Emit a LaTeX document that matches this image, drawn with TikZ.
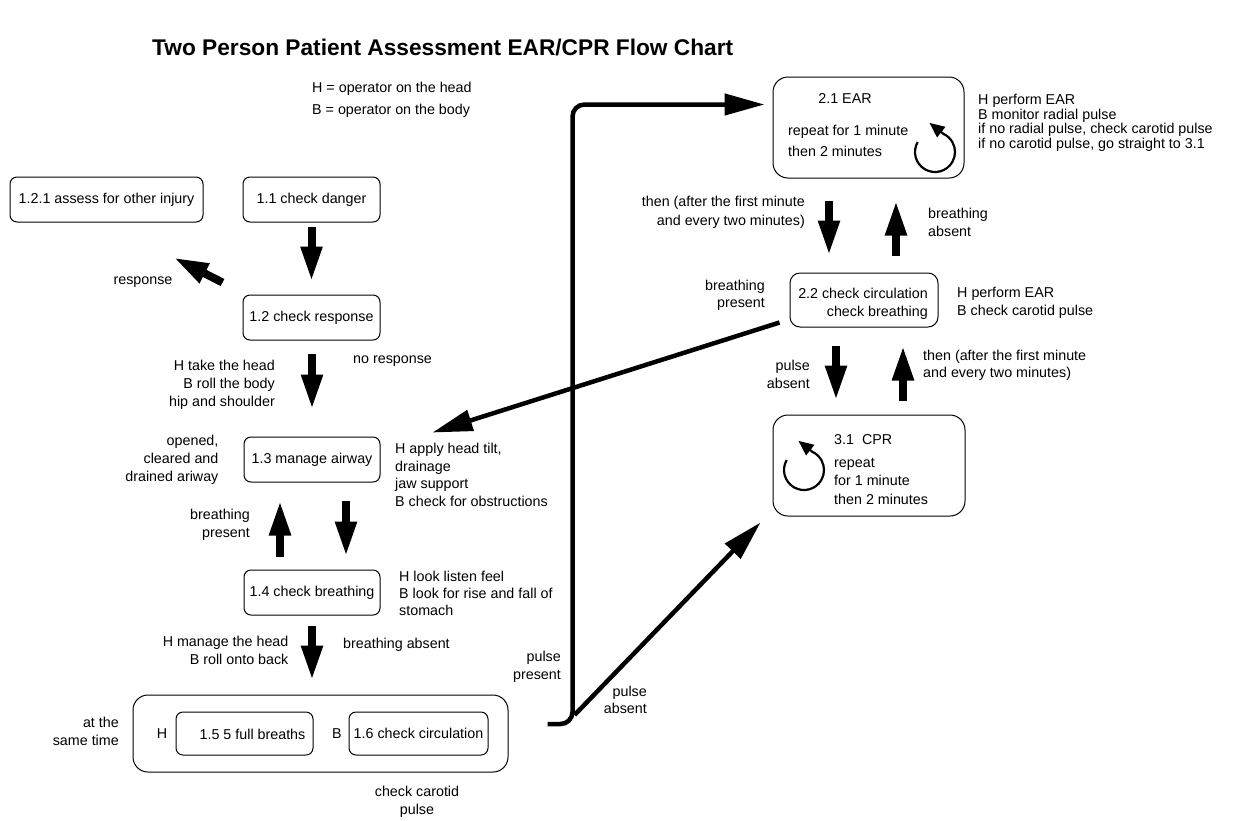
\documentclass[tikz,border=0pt]{standalone}
\usepackage{fontspec}
\setmainfont{Liberation Sans}
\usetikzlibrary{arrows.meta,calc}
\tikzset{
  box/.style={draw, line width=1pt, rounded corners=7pt, inner sep=0pt, font=\fontsize{14.3}{17}\selectfont},
  lbl/.style={inner sep=0pt, font=\fontsize{14.3}{#1}\selectfont},
  lbl/.default=18,
  blk/.style={line width=8pt, -{Triangle[length=35pt,width=20pt]}},
  lng/.style={line width=4.5pt, -{Triangle[length=40pt,width=21pt]}},
  cyc/.pic={\draw[line width=2.2pt, -{Triangle[length=15pt,width=13pt]}] (210:20) arc[start angle=210, end angle=-65, radius=20] -- ++(-14,-11);}
}
\begin{document}
\begin{tikzpicture}[x=1pt,y=-1pt]
\fill[white] (0,0) rectangle (1233,820);
\useasboundingbox (0,0) rectangle (1233,820);

% title and legend
\node[lbl, font=\fontsize{22.7}{26}\selectfont\bfseries, anchor=base west] (title) at (152,55) {Two Person Patient Assessment EAR/CPR Flow Chart};
\node[lbl=22, anchor=west, align=left] (leg) at (312,100) {H = operator on the head\\B = operator on the body};

% left column boxes
\node[box, minimum width=193pt, minimum height=45pt] (b121) at (106.5,199.5) {1.2.1 assess for other injury};
\node[box, minimum width=137pt, minimum height=45pt] (b11) at (311.5,199.5) {1.1 check danger};
\node[box, minimum width=137pt, minimum height=45pt] (b12) at (311.5,317.5) {1.2 check response};
\node[box, minimum width=136pt, minimum height=45pt] (b13) at (312,459.5) {1.3 manage airway};
\node[box, minimum width=136pt, minimum height=45pt] (b14) at (312,592.5) {1.4 check breathing};
\node[box, rounded corners=15pt, minimum width=375pt, minimum height=77pt] (outer) at (320.5,733.5) {};
\node[box, minimum width=137pt, minimum height=43pt] (b15) at (244.5,733.5) {};
\node[lbl] (t15) at (252.5,734) {1.5 5 full breaths};
\node[box, minimum width=139pt, minimum height=43pt] (b16) at (418.5,733.5) {1.6 check circulation};
\node[lbl] (tH) at (162,734) {H};
\node[lbl] (tB) at (337,734) {B};

% left labels
\node[lbl] (resp) at (143,282) {response};
\node[lbl, anchor=east, align=right] (htake) at (275,385) {H take the head\\B roll the body\\hip and shoulder};
\node[lbl, anchor=west] (nores) at (353,361) {no response};
\node[lbl, anchor=east, align=right] (opened) at (218.6,460) {opened,\\cleared and\\drained ariway};
\node[lbl=17.5, anchor=west, align=left] (happly) at (395,475) {H apply head tilt,\\drainage\\jaw support\\B check for obstructions};
\node[lbl, anchor=east, align=right] (bp1) at (250,525) {breathing\\present};
\node[lbl=17, anchor=west, align=left] (hlook) at (399,593) {H look listen feel\\B look for rise and fall of\\stomach};
\node[lbl, anchor=east, align=right] (hman) at (288.6,650) {H manage the head\\B roll onto back};
\node[lbl, anchor=west] (babs) at (343,645) {breathing absent};
\node[lbl, anchor=east, align=right] (same) at (119,731) {at the\\same time};
\node[lbl, align=center] (carot) at (417,802) {check carotid\\pulse};
\node[lbl, anchor=east, align=right] (ppres) at (561,667) {pulse\\present};
\node[lbl=17, anchor=east, align=right] (pabs) at (647,699.5) {pulse\\absent};

% right column
\node[box, rounded corners=15pt, minimum width=191pt, minimum height=101pt] (b21) at (868.5,127.5) {};
\node[lbl] (t21) at (845,99) {2.1 EAR};
\node[lbl=21, anchor=west, align=left] (t21b) at (788,140.5) {repeat for 1 minute\\then 2 minutes};
\pic at (935,152) {cyc};
\node[lbl=14.6, anchor=west, align=left] (n21) at (978,123) {H perform EAR\\B monitor radial pulse\\if no radial pulse, check carotid pulse\\if no carotid pulse, go straight to 3.1};

\node[box, rounded corners=10pt, minimum width=148pt, minimum height=54pt] (b22) at (864,300) {};
\node[lbl, anchor=east, align=right] (t22) at (928,304) {2.2 check circulation\\check breathing};
\node[lbl, anchor=west, align=left] (n22) at (957,303) {H perform EAR\\B check carotid pulse};
\node[lbl=17, anchor=east, align=right] (bp2) at (765,295.5) {breathing\\present};
\node[lbl=19, anchor=east, align=right] (th1) at (805,212.5) {then (after the first minute\\and every two minutes)};
\node[lbl, anchor=west, align=left] (ba2) at (928,222) {breathing\\absent};
\node[lbl, anchor=east, align=right] (pa2) at (810,374) {pulse\\absent};
\node[lbl=17, anchor=west, align=left] (th2) at (923,365.5) {then (after the first minute\\and every two minutes)};

\node[box, rounded corners=15pt, minimum width=192pt, minimum height=101pt] (b31) at (869,465.5) {};
\node[lbl, anchor=west] (t31) at (834,440) {3.1~~CPR};
\node[lbl=18.5, anchor=west, align=left] (t31b) at (834,481) {repeat\\for 1 minute\\then 2 minutes};
\pic at (804,470) {cyc};

% block arrows
\draw[blk] ($(b11.south)+(0,4)$) -- ($(b12.north)+(0,-13)$);
\draw[blk] ($(b12.north west)+(-20,-12)$) -- ($(b121.south east)+(-30,35)$);
\draw[blk] ($(b12.south)+(0.5,13)$) -- ($(b13.north)+(0,-27)$);
\draw[blk] ($(b14.north)+(-32,-13)$) -- ($(b13.south)+(-32,18)$);
\draw[blk] ($(b13.south)+(34,18)$) -- ($(b14.north)+(34,-13)$);
\draw[blk] ($(b14.south)+(0,10)$) -- ($(outer.north)+(-8.5,-14)$);
\draw[blk] ($(b21.south)+(-39.5,22)$) -- ($(b22.north)+(-35,-17)$);
\draw[blk] ($(b22.north)+(32,-17)$) -- ($(b21.south)+(27.5,22)$);
\draw[blk] ($(b22.south)+(-28,18)$) -- ($(b31.north)+(-33,-14)$);
\draw[blk] ($(b31.north)+(34,-14)$) -- ($(b22.south)+(39,18)$);

% long arrows
\draw[lng] ($(b22.south west)+(-10,-5)$) -- ($(b13.north east)+(52,-4)$);
\coordinate (pp) at ($(outer.east)+(39,-9.5)$);
\draw[lng, rounded corners=12pt] (pp) -| ($(b21.north west)+(-200,28)$) -- ($(b21.north west)+(-8,28)$);
\draw[lng] ($(pp)+(27,-9)$) -- ($(b31.south west)+(-12,6)$);
\end{tikzpicture}
\end{document}
